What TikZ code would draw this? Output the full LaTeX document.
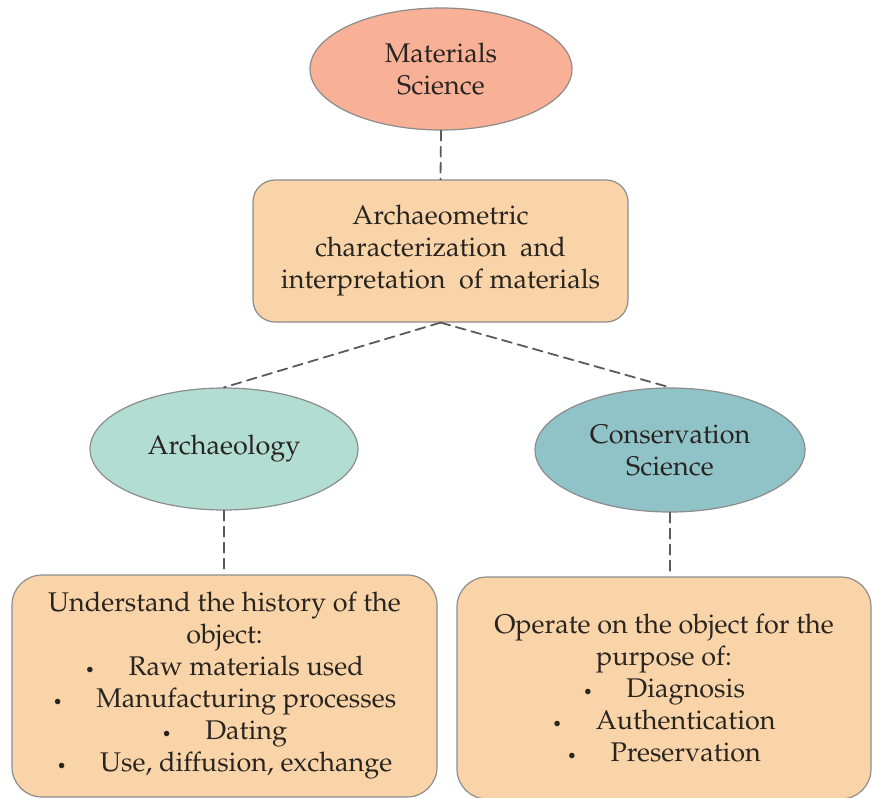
\documentclass[tikz,border=0pt]{standalone}
\usepackage[T1]{fontenc}
\usepackage{mathpazo}
\usetikzlibrary{shapes.geometric,positioning}
\definecolor{salmon}{RGB}{248,176,150}
\definecolor{peach}{RGB}{249,212,168}
\definecolor{mint}{RGB}{178,221,210}
\definecolor{teal}{RGB}{143,195,200}
\definecolor{rim}{RGB}{140,140,140}
\definecolor{link}{RGB}{90,90,90}
\definecolor{ink}{RGB}{40,36,32}

\begin{document}
\begin{tikzpicture}[x=0.5pt, y=-0.5pt, line cap=round]
  \tikzset{topic/.style={ellipse, draw=rim, line width=0.6pt, inner sep=0pt,
      align=center, text=ink, font=\fontsize{13.5}{16}\selectfont},
    infobox/.style={draw=rim, line width=0.6pt, fill=peach, rounded corners=11pt,
      inner sep=0pt, align=center, text=ink, font=\fontsize{13.5}{16}\selectfont},
    link/.style={draw=link, line width=0.9pt, dash pattern=on 5pt off 3pt}}
  \newcommand{\itm}{{\footnotesize\textbullet}\quad\ }
  \useasboundingbox (0,0) rectangle (873,798);
  % ellipsen
  \node[topic, fill=salmon, minimum width=131pt, minimum height=61pt] (ms) at (441,69)
    {Materials\\Science};
  \node[topic, fill=mint, minimum width=134pt, minimum height=61pt] (archeo) at (224,449)
    {Archaeology};
  \node[topic, fill=teal, minimum width=135pt, minimum height=62pt] (cons) at (670,450)
    {Conservation\\Science};
  % kaders
  \node[infobox, minimum width=187.5pt, minimum height=71pt] (arch) at (440.5,251)
    {Archaeometric\\characterization\enspace and\\interpretation\enspace of materials};
  \node[infobox, rounded corners=15pt, minimum width=212.5pt, minimum height=111pt] (hist) at (224.5,686)
    {Understand the history of the\\object:\\
     \itm Raw materials used\\
     \itm Manufacturing processes\\
     \itm Dating\\
     \itm Use, diffusion, exchange};
  \node[infobox, rounded corners=15pt, minimum width=207pt, minimum height=111pt] (oper) at (664,688)
    {Operate on the object for the\\purpose of:\\
     \itm Diagnosis\\
     \itm Authentication\\
     \itm Preservation};
  % verbindingen
  \draw[link] (ms.south) -- (arch.north);
  \draw[link] (arch.south) -- (archeo.north);
  \draw[link] (arch.south) -- (cons.north);
  \draw[link] (archeo.south) -- (archeo.south |- hist.north);
  \draw[link] (cons.south) -- (cons.south |- oper.north);
\end{tikzpicture}
\end{document}
